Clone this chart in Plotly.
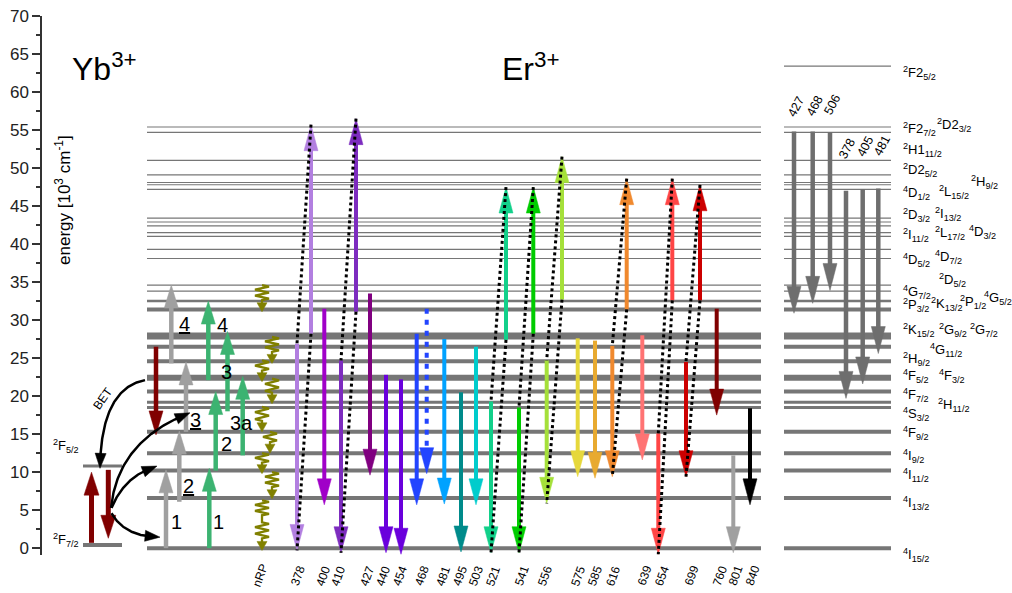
import math
import plotly.graph_objects as go

# ---------------- data (energies in 10^3 cm^-1) ----------------
er_levels = [0.0, 6.6, 10.2, 12.5, 15.3, 18.5, 19.2, 20.6, 22.4, 24.6, 26.5, 27.9, 31.4, 32.5,
             33.8, 34.6, 38.1, 39.3, 41.0, 41.5, 42.4, 42.9, 43.4,
             47.2, 47.8, 48.1, 49.1, 51.0, 54.7, 55.4]
er_level_top = [63.4]
yb_levels = [0.4, 10.8]

# simple Er emissions
em_labels = ["400", "427", "440", "454", "468", "468", "481", "495", "503", "575", "585", "639", "760", "801", "840"]
em_start = [31.5, 33.5, 22.8, 22.2, 28.2, 31.5, 27.5, 20.5, 26.5, 27.6, 27.3, 28.0, 31.5, 12.2, 18.4]
em_end = [5.7, 9.6, -0.6, -0.8, 5.7, 9.8, 5.8, -0.5, 5.7, 9.4, 9.2, 11.6, 17.5, -0.6, 5.7]

# excited-state absorption + emission pairs
esa_labels = ["378", "410", "521", "541", "556", "616", "654", "699"]
esa_up_start = [28.2, 31.1, 27.4, 28.2, 32.7, 31.4, 32.6, 32.6]
esa_up_end = [55.7, 56.5, 47.5, 47.5, 51.5, 48.6, 48.6, 47.8]
esa_em_start = [26.9, 24.7, 19.3, 18.5, 24.7, 26.6, 15.1, 24.5]
esa_em_end = [-0.3, -0.6, -0.6, -0.6, 5.9, 9.4, -0.8, 9.4]

# right panel emissions
rp_labels = ["427", "468", "506", "378", "405", "481"]
rp_start = [54.8, 54.8, 54.7, 47.0, 47.2, 47.3]
rp_end = [30.9, 32.2, 33.9, 19.7, 21.6, 25.6]

# pump (energy transfer) steps
gray_labels = ["1", "<u>2</u>", "<u>3</u>", "<u>4</u>"]
gray_start = [0.0, 6.1, 15.3, 24.3]
gray_end = [10.3, 15.4, 24.5, 34.6]
green_labels = ["1", "2", "3", "3a", "4"]
green_start = [0.0, 10.2, 18.0, 12.2, 22.1]
green_end = [10.5, 20.6, 28.5, 22.6, 32.5]

# non-radiative relaxation steps
nrp_start = [34.6, 27.8, 24.7, 22.3, 18.6, 15.3, 12.5, 10.0, 6.3]
nrp_end = [31.1, 24.3, 21.9, 19.0, 15.3, 12.5, 9.8, 6.5, -0.3]

# Yb transitions
yb_abs = (0.7, 10.0)
yb_em = (10.3, 1.3)
er_bet = (26.5, 14.9)

level_names = [
    ("<sup>2</sup>F2<sub>5/2</sub>", 62.5), ("<sup>2</sup>F2<sub>7/2</sub>", 55.1), ("<sup>2</sup>D2<sub>3/2</sub>", 55.7),
    ("<sup>2</sup>H1<sub>11/2</sub>", 52.4), ("<sup>2</sup>D2<sub>5/2</sub>", 49.7), ("<sup>4</sup>D<sub>1/2</sub>", 46.7),
    ("<sup>2</sup>L<sub>15/2</sub>", 46.9), ("<sup>2</sup>H<sub>9/2</sub>", 48.2), ("<sup>2</sup>D<sub>3/2</sub>", 43.8),
    ("<sup>2</sup>I<sub>13/2</sub>", 44.0), ("<sup>2</sup>I<sub>11/2</sub>", 41.2), ("<sup>2</sup>L<sub>17/2</sub>", 41.5),
    ("<sup>4</sup>D<sub>3/2</sub>", 41.6), ("<sup>4</sup>D<sub>5/2</sub>", 37.9), ("<sup>4</sup>D<sub>7/2</sub>", 38.3),
    ("<sup>2</sup>D<sub>5/2</sub>", 35.3), ("<sup>4</sup>G<sub>7/2</sub>", 33.7), ("<sup>2</sup>P<sub>3/2</sub>", 32.0),
    ("<sup>2</sup>K<sub>13/2</sub>", 32.1), ("<sup>2</sup>P<sub>1/2</sub>", 32.4), ("<sup>4</sup>G<sub>5/2</sub>", 32.9),
    ("<sup>2</sup>K<sub>15/2</sub>", 28.7), ("<sup>2</sup>G<sub>9/2</sub>", 28.7), ("<sup>2</sup>G<sub>7/2</sub>", 28.7),
    ("<sup>4</sup>G<sub>11/2</sub>", 26.1), ("<sup>2</sup>H<sub>9/2</sub>", 24.9), ("<sup>4</sup>F<sub>5/2</sub>", 22.6),
    ("<sup>4</sup>F<sub>3/2</sub>", 22.6), ("<sup>4</sup>F<sub>7/2</sub>", 20.1), ("<sup>2</sup>H<sub>11/2</sub>", 18.8),
    ("<sup>4</sup>S<sub>3/2</sub>", 17.7), ("<sup>4</sup>F<sub>9/2</sub>", 15.1), ("<sup>4</sup>I<sub>9/2</sub>", 12.1),
    ("<sup>4</sup>I<sub>11/2</sub>", 9.6), ("<sup>4</sup>I<sub>13/2</sub>", 5.9), ("<sup>4</sup>I<sub>15/2</sub>", -0.85),
]
yb_names = [("<sup>2</sup>F<sub>7/2</sub>", 1.05), ("<sup>2</sup>F<sub>5/2</sub>", 13.5)]

# ---------------- layout / styles ----------------
W, H = 1012, 593
M_L, M_R, M_T, M_B = 42, 0, 16, 38
X0, X1 = 42, 1012
Y0, Y1 = -0.9, 70
PX_PER_E = (H - M_T - M_B) / (Y1 - Y0)
FONT = "Liberation Sans, Arial, sans-serif"
LEVEL_C = "#767676"

def e2px(e):
    return M_T + (Y1 - e) * PX_PER_E

def px2e(py):
    return Y1 - (py - M_T) / PX_PER_E

level_w = [4, 4, 4, 4, 4, 3, 3, 4, 6, 4, 4, 7, 4, 2.5] + [1.2] * 16
em_x = [324.3, 370, 386, 401, 416.7, 426.7, 444.3, 461, 476, 577.7, 595, 642.3, 716.7, 733.3, 750]
em_colors = ["#a000c8", "#800080", "#6a00dc", "#6a00dc", "#2244ff", "#2244ff", "#00a2ff", "#008b8b",
             "#00cccc", "#e6d83c", "#e8aa30", "#ff7373", "#800000", "#a0a0a0", "#000000"]
em_dash = ["solid"] * 5 + ["5px,6px"] + ["solid"] * 9
esa_up_x = [311, 356, 506, 533.3, 562, 626.7, 672.3, 700]
esa_dn_x = [297, 341, 491, 519, 546.7, 612.3, 658.3, 686]
esa_colors = ["#b27fe0", "#7d2cbf", "#12d08a", "#00cc00", "#a5e03a", "#f0892e", "#ff4545", "#cc0000"]
rp_x = [794, 812.7, 830, 846, 862.7, 878.3]
gray_x = [166, 179.3, 186, 171.3]
green_x = [209.3, 215.7, 227.5, 242.7, 208.3]
nrp_x = [262, 272, 262, 272, 262, 270, 262, 272, 262]

fig = go.Figure()


def add_line(xs, es, color, width, dash="solid"):
    fig.add_trace(go.Scatter(x=xs, y=es, mode="lines", line=dict(color=color, width=width, dash=dash),
                             hoverinfo="skip", showlegend=False))


def add_poly(pts_px, color):
    xs = [p[0] for p in pts_px] + [pts_px[0][0]]
    es = [px2e(p[1]) for p in pts_px] + [px2e(pts_px[0][1])]
    fig.add_trace(go.Scatter(x=xs, y=es, mode="lines", fill="toself", fillcolor=color,
                             line=dict(color=color, width=0.5), hoverinfo="skip", showlegend=False))


def head_pts(tip, u, hl, hw):
    bx, by = tip[0] - u[0] * hl, tip[1] - u[1] * hl
    nx, ny = -u[1], u[0]
    return [(bx + nx * hw / 2, by + ny * hw / 2), tip, (bx - nx * hw / 2, by - ny * hw / 2)]


def straight_arrow(x, e0, e1, color, width=4, hl=25, hw=14, dash="solid"):
    p0, p1 = e2px(e0), e2px(e1)
    s = 1 if p1 > p0 else -1
    add_line([x, x], [e0, px2e(p1 - s * (hl - 2))], color, width, dash)
    add_poly(head_pts((x, p1), (0, s), hl, hw), color)


def curved_arrow(p0, p1, p2, color="#000000", width=2.5, hl=15, hw=11):
    a = (p0[0], e2px(p0[1]))
    b = (p1[0], e2px(p1[1]))
    c = (p2[0], e2px(p2[1]))
    pts = []
    n = 80
    for i in range(n + 1):
        t = i / n
        pts.append(((1 - t) ** 2 * a[0] + 2 * (1 - t) * t * b[0] + t * t * c[0],
                    (1 - t) ** 2 * a[1] + 2 * (1 - t) * t * b[1] + t * t * c[1]))
    k = n
    while k > 0 and math.hypot(c[0] - pts[k][0], c[1] - pts[k][1]) < hl:
        k -= 1
    dx, dy = c[0] - pts[k][0], c[1] - pts[k][1]
    d = math.hypot(dx, dy)
    u = (dx / d, dy / d)
    shaft = pts[:k + 1] + [(c[0] - u[0] * (hl - 3), c[1] - u[1] * (hl - 3))]
    add_line([p[0] for p in shaft], [px2e(p[1]) for p in shaft], color, width)
    add_poly(head_pts(c, u, hl, hw), color)


def nrp_arrow(x, e0, e1, color="#808000"):
    p0, p1 = e2px(e0), e2px(e1)
    hl, hw, amp = 9, 10, 7
    body_end = p1 - hl
    if p1 - p0 > 40:
        sections = [(p0, p0 + 15), (p0 + 22, body_end - 3)]
    else:
        sections = [(p0, p0 + max(6, min(15, body_end - p0 - 2)))]
    pts = []
    for (a, b) in sections:
        nstr = max(3, int(round((b - a) / 3.3)))
        pts.append((x, a))
        for i in range(nstr):
            pts.append((x + amp * (-1) ** i, a + (i + 0.5) * (b - a) / nstr))
        pts.append((x, b))
    pts.append((x, body_end + 1))
    add_line([p[0] for p in pts], [px2e(p[1]) for p in pts], color, 2.3)
    add_poly(head_pts((x, p1), (0, 1), hl, hw), color)


# ---------------- levels ----------------
for e, w in zip(er_levels, level_w):
    add_line([147, 761], [e, e], LEVEL_C, w)
    add_line([784, 891], [e, e], LEVEL_C, w)
for e in er_level_top:
    add_line([784, 891], [e, e], LEVEL_C, 1.2)
add_line([83, 122], [yb_levels[0], yb_levels[0]], LEVEL_C, 4)
add_line([83, 122], [yb_levels[1], yb_levels[1]], LEVEL_C, 3)

# ---------------- Yb and pump arrows ----------------
straight_arrow(91.5, yb_abs[0], yb_abs[1], "#800000", width=5, hl=23, hw=15)
straight_arrow(108.3, yb_em[0], yb_em[1], "#800000", width=5, hl=23, hw=15)
straight_arrow(156, er_bet[0], er_bet[1], "#800000", width=4.5, hl=24, hw=14)

for x, e0, e1 in zip(gray_x, gray_start, gray_end):
    straight_arrow(x, e0, e1, "#a0a0a0", width=4.5, hl=23, hw=14)
for x, e0, e1 in zip(green_x, green_start, green_end):
    straight_arrow(x, e0, e1, "#3cb371", width=4.5, hl=23, hw=14)

for x, e0, e1 in zip(nrp_x, nrp_start, nrp_end):
    nrp_arrow(x, e0, e1)

# ---------------- Er emissions ----------------
for x, e0, e1, c, d in zip(em_x, em_start, em_end, em_colors, em_dash):
    straight_arrow(x, e0, e1, c, width=4, hl=26, hw=14, dash=d)

for ux, dx, u0, u1, d0, d1, c in zip(esa_up_x, esa_dn_x, esa_up_start, esa_up_end,
                                      esa_em_start, esa_em_end, esa_colors):
    straight_arrow(ux, u0, u1, c, width=4, hl=26, hw=14)
    straight_arrow(dx, d0, d1, c, width=4, hl=26, hw=14)

for ux, dx, u0, u1, d0, d1 in zip(esa_up_x, esa_dn_x, esa_up_start, esa_up_end, esa_em_start, esa_em_end):
    add_line([ux, dx], [u1, d0], "#000000", 3, "dot")
    add_line([ux, dx], [u0, d1], "#000000", 3, "dot")

for x, e0, e1 in zip(rp_x, rp_start, rp_end):
    straight_arrow(x, e0, e1, "#6e6e6e", width=4.5, hl=27, hw=14)

# ---------------- curved energy-transfer arrows ----------------
curved_arrow((145, 22.1), (101, 21.0), (100, 10.5))   # BET
curved_arrow((111, 5.3), (118, 14.2), (190, 17.8))
curved_arrow((111.5, 5.3), (125, 9.6), (157, 10.8))
curved_arrow((111.5, 4.6), (125, 1.45), (160, 1.45))

# ---------------- annotations ----------------
ann = []


def txt(text, x, y, size=12, xanchor="left", yanchor="middle", angle=0, yshift=0, color="#000000"):
    ann.append(dict(text=text, x=x, y=y, xref="x", yref="y", showarrow=False, xanchor=xanchor,
                    yanchor=yanchor, textangle=angle, yshift=yshift,
                    font=dict(family=FONT, size=size, color=color)))


name_x = [901, 901, 935, 901, 901, 901, 937, 969, 901, 933, 901, 933, 967, 901, 933, 937, 901, 901,
          929, 958, 982, 901, 937, 968, 928, 901, 901, 937, 901, 936, 901, 901, 901, 901, 901, 901]
for (t, e), x in zip(level_names, name_x):
    txt(t, x, e, size=13)
for (t, e) in yb_names:
    txt(t, 81, e, size=13, xanchor="right")

txt("Yb<sup>3+</sup>", 70, 63.3, size=32)
txt("Er<sup>3+</sup>", 500, 63.3, size=32)
txt("energy [10<sup>3</sup> cm<sup>-1</sup>]", 63, 45.8, size=17, xanchor="center", angle=-90)
txt("BET", 103.3, 19.7, size=12, xanchor="center", angle=-55)

gray_lab_pos = [(176, 3.5), (188, 8.2), (195, 16.9), (184.5, 29.5)]
for t, (x, e) in zip(gray_labels, gray_lab_pos):
    txt(t, x, e, size=20, xanchor="center")
green_lab_pos = [(218.3, 3.5), (226, 13.7), (226.7, 23.2), (241.7, 16.5), (222.7, 29.3)]
for t, (x, e) in zip(green_labels, green_lab_pos):
    txt(t, x, e, size=20, xanchor="center")

bottom_labels = ["nRP", "378", "400", "410", "427", "440", "454", "468", "481", "495", "503", "521", "541",
                 "556", "575", "585", "616", "639", "654", "699", "760", "801", "840"]
bottom_x = [260, 297.7, 323.3, 338.3, 367.3, 383.3, 400, 421.7, 443.3, 460, 476, 493.3, 521.7,
            545, 578.3, 595, 613.3, 644.5, 662, 691.5, 720, 735.5, 752.5]
for t, x in zip(bottom_labels, bottom_x):
    txt(t, x, Y0, size=12, xanchor="center", angle=-70, yshift=-21)

rp_lab_x = [796, 815, 832, 847, 865, 882]
rp_lab_e = [58.0, 58.1, 58.3, 52.5, 52.8, 52.9]
for t, x, e in zip(rp_labels, rp_lab_x, rp_lab_e):
    txt(t, x, e, size=12.5, xanchor="center", angle=-62)

fig.update_layout(
    width=W, height=H,
    margin=dict(l=M_L, r=M_R, t=M_T, b=M_B, pad=0),
    paper_bgcolor="white", plot_bgcolor="white",
    showlegend=False,
    annotations=ann,
    xaxis=dict(range=[X0, X1], visible=False, fixedrange=True),
    yaxis=dict(range=[Y0, Y1], tick0=0, dtick=5, ticks="outside", ticklen=8, tickwidth=1.5,
               tickcolor="#333333", showline=True, linecolor="#333333", linewidth=1.5,
               showgrid=False, zeroline=False, fixedrange=True,
               tickfont=dict(family=FONT, size=17, color="#222222"),
               minor=dict(dtick=2.5, tick0=0, ticks="outside", ticklen=4, tickwidth=1.5,
                          tickcolor="#333333", showgrid=False)),
)

fig.write_html("out.html")
